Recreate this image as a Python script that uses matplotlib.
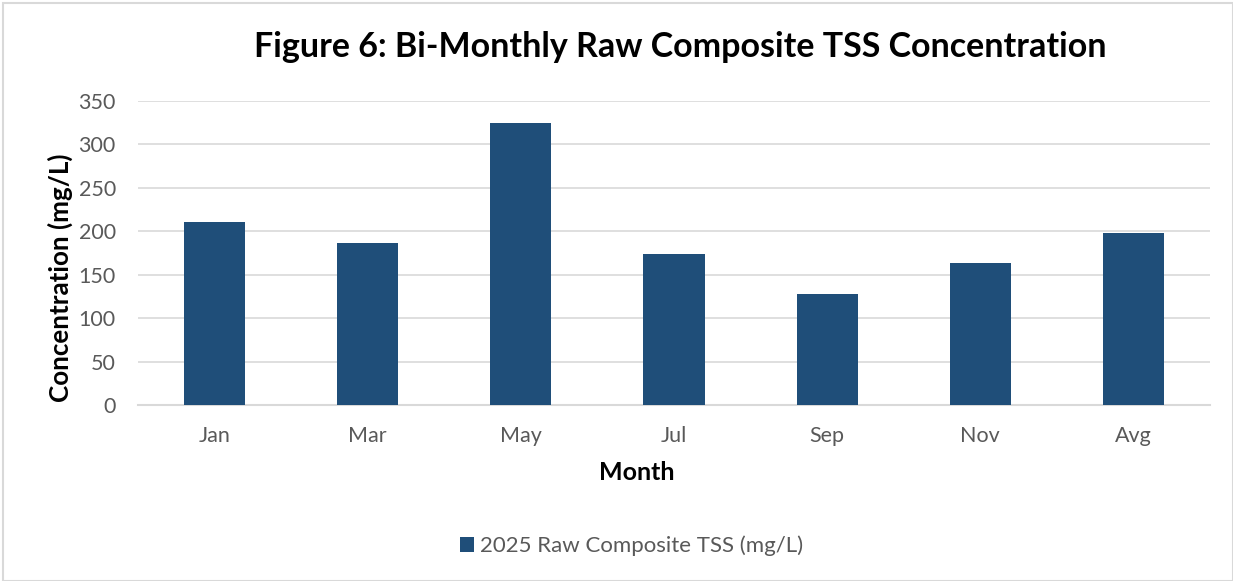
import matplotlib
matplotlib.use("Agg")
import matplotlib.pyplot as plt
from matplotlib.patches import Rectangle

months = ["Jan", "Mar", "May", "Jul", "Sep", "Nov", "Avg"]
tss = [211, 187, 325, 174, 128, 164, 198]
series_label = "2025 Raw Composite TSS (mg/L)"
title = "Figure 6: Bi-Monthly Raw Composite TSS Concentration"
yticks = [0, 50, 100, 150, 200, 250, 300, 350]

plt.rcParams['font.family'] = ['Lato', 'DejaVu Sans']
W, H = 1233, 581
fig = plt.figure(figsize=(W/100, H/100), dpi=100)
fig.patch.set_facecolor('white')
# chart border
fig.add_artist(Rectangle((3/W, 0), (W-3)/W, (H-3)/H, transform=fig.transFigure,
                         fill=False, edgecolor='#d9d9d9', linewidth=1.5))

left, right, top, bottom = 138, 1210, 101, 405
ax = fig.add_axes([left/W, 1-bottom/H, (right-left)/W, (bottom-top)/H])
x = range(len(months))
ax.bar(x, tss, width=0.4, color='#1f4e79', zorder=3, label=series_label)
ax.set_xlim(-0.5, len(months)-0.5)
ax.set_ylim(0, 350)
ax.set_yticks(yticks)
ax.set_xticks(list(x))
ax.set_xticklabels(months)
ax.yaxis.grid(True, color='#d9d9d9', linewidth=1.2, zorder=0)
for s in ['top', 'right', 'left']:
    ax.spines[s].set_visible(False)
ax.spines['bottom'].set_color('#d9d9d9')
ax.spines['bottom'].set_linewidth(1.5)
ax.tick_params(axis='both', length=0, labelsize=15.5, labelcolor='#595959')
ax.tick_params(axis='x', pad=15)
ax.tick_params(axis='y', pad=16)
ax.set_xlabel("Month", fontsize=18, fontweight='bold', va='center')
ax.set_ylabel("Concentration (mg/L)", fontsize=18.7, fontweight='bold', va='center')
ax.xaxis.set_label_coords((637-left)/(right-left), (bottom-473)/(bottom-top))
ax.yaxis.set_label_coords((60-left)/(right-left), (bottom-278)/(bottom-top))
fig.text(680/W, 1-47/H, title, ha='center', va='center', fontsize=24.5, fontweight='bold')
leg = fig.legend(loc='center', bbox_to_anchor=(632/W, 1-546/H), frameon=False,
                 fontsize=16, handlelength=0.6, handleheight=0.6, handletextpad=0.3)
for t in leg.get_texts():
    t.set_color('#595959')
fig.savefig("out.png", dpi=100)
